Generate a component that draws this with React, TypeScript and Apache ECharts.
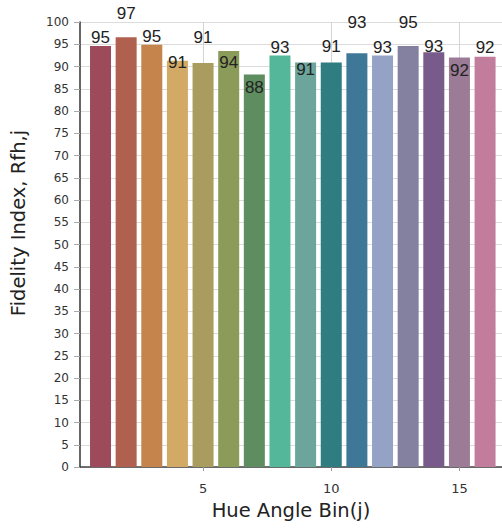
import React, { useEffect, useRef } from "react";
import * as echarts from "echarts";

const bins = [1, 2, 3, 4, 5, 6, 7, 8, 9, 10, 11, 12, 13, 14, 15, 16];
const fidelity = [94.6, 96.6, 94.9, 91.3, 90.8, 93.5, 88.2, 92.5, 90.9, 90.9, 93.0, 92.5, 94.6, 93.2, 92.0, 92.2];
const binColors = [
  "#9d4b5b", "#b0604f", "#c4844b", "#d3aa65", "#aa9b5f", "#8a9b5a", "#5e8d60", "#55b79a",
  "#6ba59b", "#2f7d81", "#3f7897", "#94a2c5", "#84809f", "#785a8b", "#9b7b96", "#c17d9b",
];
// vertical label shifts (style only, to reproduce staggered labels)
const labelShift = [-1, -16, 0, 10, -17, 20, 20.5, 0, 15.5, -7.5, -23, 0, -16, 2.7, 20.4, -1.7];
const xTicks = [5, 10, 15];

export default function App() {
  const ref = useRef<HTMLDivElement>(null);
  useEffect(() => {
    if (!ref.current) return;
    const chart = echarts.init(ref.current, undefined, { renderer: "svg" });
    const data = bins.map((b, i) => ({
      value: [b, fidelity[i]],
      itemStyle: { color: binColors[i] },
      label: { offset: [0, labelShift[i]] },
    }));
    chart.setOption({
      animation: false,
      backgroundColor: "#ffffff",
      grid: { left: 79, right: 0, top: 22, bottom: 61 },
      xAxis: {
        type: "value",
        min: 0.2,
        max: 16.66,
        name: "Hue Angle Bin(j)",
        nameLocation: "middle",
        nameGap: 33,
        nameTextStyle: { fontFamily: "DejaVu Sans", fontSize: 19.5, color: "#222" },
        axisLine: { show: true, onZero: false, lineStyle: { color: "#444", width: 1.5 } },
        axisTick: { show: true, length: 4, customValues: xTicks, lineStyle: { color: "#999" } },
        axisLabel: {
          customValues: xTicks,
          margin: 15,
          fontFamily: "DejaVu Sans",
          fontSize: 13,
          color: "#333",
        },
        splitLine: { show: true, lineStyle: { color: "#d4d4d4", width: 1 } },
      },
      yAxis: {
        type: "value",
        min: 0,
        max: 100,
        interval: 5,
        name: "Fidelity Index, Rfh,j",
        nameLocation: "middle",
        nameGap: 52,
        nameTextStyle: {
          fontFamily: "DejaVu Sans",
          fontSize: 19.5,
          color: "#222",
          padding: [0, 0, 0, 43],
        },
        axisLine: { show: true, lineStyle: { color: "#333", width: 1.5 } },
        axisTick: { show: true, length: 6, lineStyle: { color: "#aaa" } },
        axisLabel: { margin: 11, fontFamily: "DejaVu Sans", fontSize: 12, color: "#333" },
        splitLine: { show: true, lineStyle: { color: "#dcdcdc", width: 1 } },
      },
      series: [
        {
          type: "bar",
          barWidth: 21,
          data,
          label: {
            show: true,
            position: "top",
            distance: 0,
            lineHeight: 16,
            fontFamily: "Liberation Sans",
            fontSize: 17,
            color: "#222",
            formatter: (p: any) => String(Math.round(p.value[1])),
          },
        },
      ],
    });
    return () => chart.dispose();
  }, []);
  return (
    <div
      ref={ref}
      style={{ position: "absolute", left: 0, top: 0, width: 502, height: 528 }}
    />
  );
}
